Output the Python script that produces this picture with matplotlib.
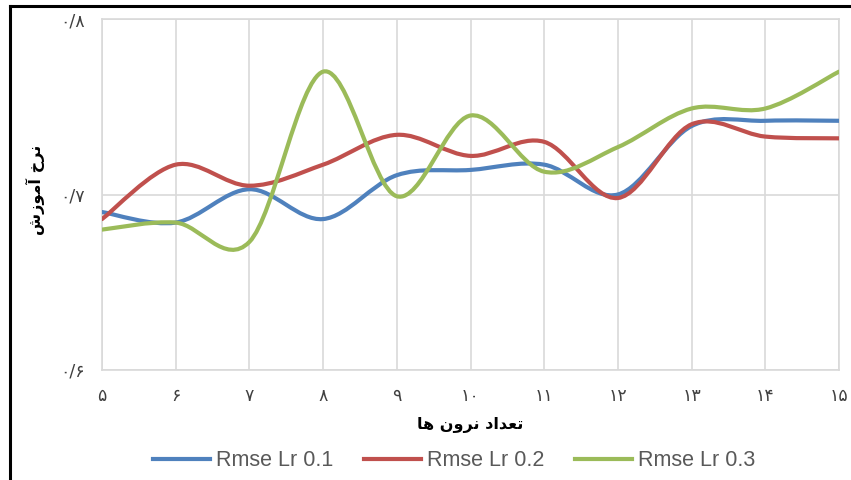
import numpy as np
import matplotlib
matplotlib.use('Agg')
import matplotlib.pyplot as plt
from matplotlib.path import Path
from matplotlib.patches import PathPatch
from matplotlib.lines import Line2D

# neurons on the x axis
neurons = [5, 6, 7, 8, 9, 10, 11, 12, 13, 14, 15]
x_labels = ['۵', '۶', '۷', '۸', '۹', '۱۰', '۱۱', '۱۲', '۱۳', '۱۴', '۱۵']
y_ticks = [0.6, 0.7, 0.8]
y_labels = ['۰/۶', '۰/۷', '۰/۸']

rmse_lr01 = [0.690, 0.684, 0.703, 0.686, 0.711, 0.714, 0.717, 0.700, 0.739, 0.742, 0.742]
rmse_lr02 = [0.686, 0.717, 0.705, 0.717, 0.734, 0.722, 0.730, 0.698, 0.740, 0.733, 0.732]
rmse_lr03 = [0.680, 0.684, 0.673, 0.770, 0.699, 0.745, 0.713, 0.727, 0.749, 0.749, 0.770]

series_names = ['Rmse Lr 0.1', 'Rmse Lr 0.2', 'Rmse Lr 0.3']
colors = ['#4F81BD', '#C0504D', '#9BBB59']

# persian titles written in presentation forms, visual order (no shaping in mpl)
x_title = '\uFE8E\uFEEB \uFEE5\uFEED\uFEAE\uFEE7 \uFEA9\uFE8D\uFEAA\uFECC\uFE97'
y_title = '\uFEB5\uFEAF\uFEEE\uFEE3\uFE81 \uFEA5\uFEAE\uFEE7'


def smooth_path(xs, ys):
    # excel style smoothed line: bezier segments through the points
    pts = np.column_stack([xs, ys]).astype(float)
    n = len(pts)
    verts = [pts[0]]
    codes = [Path.MOVETO]
    for i in range(n - 1):
        p0 = pts[i - 1] if i > 0 else pts[i]
        p1 = pts[i]
        p2 = pts[i + 1]
        p3 = pts[i + 2] if i + 2 < n else pts[i + 1]
        c1 = p1 + (p2 - p0) / 6
        c2 = p2 - (p3 - p1) / 6
        verts += [c1, c2, p2]
        codes += [Path.CURVE4] * 3
    return Path(verts, codes)


fig = plt.figure(figsize=(8.51, 4.8), dpi=100)
ax = fig.add_axes([102 / 851, 1 - 370 / 480, 737 / 851, 351 / 480])

for ys, c in zip([rmse_lr01, rmse_lr02, rmse_lr03], colors):
    ax.add_patch(PathPatch(smooth_path(neurons, ys), fill=False, edgecolor=c,
                           lw=3.0, capstyle='round', zorder=3))

ax.set_xlim(5, 15)
ax.set_ylim(0.6, 0.8)
ax.set_xticks(neurons)
ax.set_xticklabels(x_labels, fontsize=12.5, color='#404040')
ax.set_yticks(y_ticks)
ax.set_yticklabels(y_labels, fontsize=12.5, color='#404040')
ax.tick_params(length=0, pad=12)
ax.grid(True, color='#D9D9D9', lw=1.2)
for s in ax.spines.values():
    s.set_color('#D9D9D9')
    s.set_linewidth(1.2)

fig.text(470 / 851, 1 - 425 / 480, x_title, ha='center', va='center',
         fontsize=11.5, fontweight='bold')
fig.text(35 / 851, 1 - 190 / 480, y_title, ha='center', va='center',
         fontsize=11.5, fontweight='bold', rotation=90)

handles = [Line2D([], [], color=c, lw=3.0) for c in colors]
leg = fig.legend(handles, series_names, loc='center', bbox_to_anchor=(454 / 851, 1 - 461 / 480),
                 ncol=3, frameon=False, handlelength=2.65, handletextpad=0.25,
                 columnspacing=1.45, borderaxespad=0, borderpad=0,
                 prop={'family': 'Liberation Sans', 'size': 15.5})
for t in leg.get_texts():
    t.set_color('#595959')

# black frame on top and left edge
fig.add_artist(Line2D([10 / 851, 10 / 851], [0, 1 - 6 / 480], color='black', lw=2.2,
                      transform=fig.transFigure))
fig.add_artist(Line2D([10 / 851, 1], [1 - 6 / 480, 1 - 6 / 480], color='black', lw=2.2,
                      transform=fig.transFigure))

fig.savefig('out.png', dpi=100)
